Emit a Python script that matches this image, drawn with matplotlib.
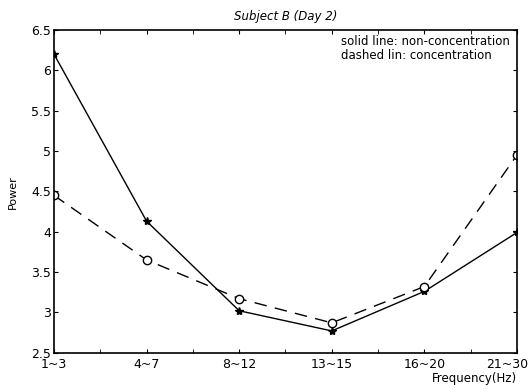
import matplotlib
matplotlib.use("Agg")
from matplotlib import pyplot as plt
from matplotlib.transforms import ScaledTranslation
import numpy as np

# frequency bands and power values
bands = ["1~3", "4~7", "8~12", "13~15", "16~20", "21~30"]
non_concentration = [6.20, 4.13, 3.02, 2.77, 3.26, 3.99]
concentration = [4.45, 3.65, 3.17, 2.87, 3.32, 4.95]

x = np.arange(1, len(bands) + 1)

fig = plt.figure(figsize=(5.31, 3.89), dpi=100)
ax = fig.add_axes([0.1017, 0.0933, 0.8719, 0.8296])

ax.plot(x, non_concentration, "k-", lw=1.0, marker="*", ms=6, mfc="k")
ax.plot(x, concentration, "k--", lw=1.0, dashes=(9, 6), marker="o", ms=6, mfc="white", mew=1.0)

ax.set_xlim(1, 6)
ax.set_ylim(2.5, 6.5)
ax.set_xticks(x)
ax.set_xticklabels(bands)
ax.set_xticks(np.arange(1.5, 6, 1), minor=True)
ax.set_yticks(np.arange(2.5, 6.6, 0.5))
ax.set_yticklabels(["2.5", "3", "3.5", "4", "4.5", "5", "5.5", "6", "6.5"])
ax.tick_params(which="both", direction="in", top=True, right=True, labelsize=9, length=3)
ax.tick_params(axis="x", pad=4)
ax.tick_params(axis="y", pad=2)
for s in ax.spines.values():
    s.set_linewidth(1.2)

# keep the last band label inside the canvas
last = ax.get_xticklabels()[-1]
last.set_transform(last.get_transform() + ScaledTranslation(-0.10, 0, fig.dpi_scale_trans))

ax.set_title("Subject B (Day 2)", fontsize=8.5, style="italic", pad=7)
ax.text(0.62, 0.985, "solid line: non-concentration\ndashed lin: concentration",
        transform=ax.transAxes, ha="left", va="top", fontsize=8.5, linespacing=1.1)
fig.text(0.974, 0.01, "Frequency(Hz)", ha="right", va="bottom", fontsize=8.5)
fig.text(0.024, 0.505, "Power", rotation=90, ha="center", va="center", fontsize=8)

fig.savefig("out.png", dpi=100)
